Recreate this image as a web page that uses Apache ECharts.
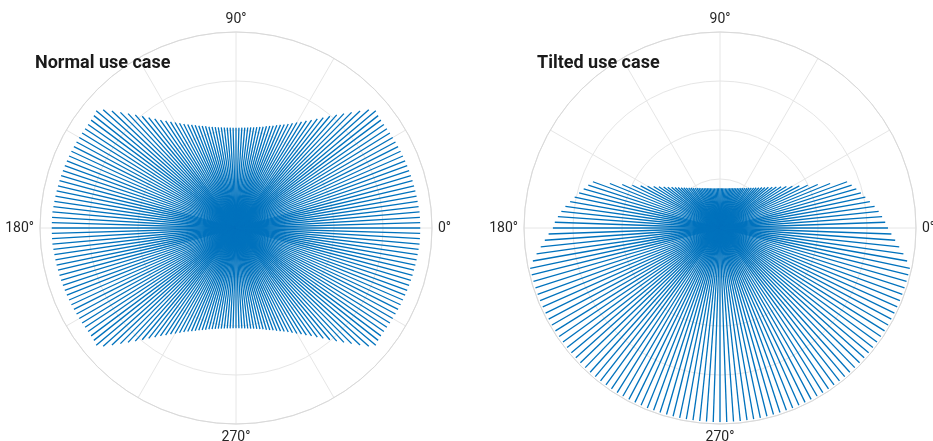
<!DOCTYPE html>
<html>
<head>
<meta charset="utf-8">
<script src="https://cdn.jsdelivr.net/npm/echarts@6/dist/echarts.min.js"></script>
<style>
html,body{margin:0;padding:0;background:#fff;}
#chart{width:933px;height:441px;}
</style>
</head>
<body>
<div id="chart"></div>
<script>
// ---- Data (radius in range units, angle in degrees) ----
const titles = ['Normal use case', 'Tilted use case'];
const angleLabels = [0, 90, 180, 270];

const normalAngles = [
0,1.67,3.33,5,6.67,8.33,10,11.67,13.33,15,16.67,18.33,20,21.67,23.33,25,26.67,28.33,30,31.67,33.33,35,36.67,38.33,
40,41.67,43.33,45,46.67,48.33,50,51.67,53.33,55,56.67,58.33,60,61.67,63.33,65,66.67,68.33,70,71.67,73.33,75,76.67,78.33,
80,81.67,83.33,85,86.67,88.33,90,91.67,93.33,95,96.67,98.33,100,101.67,103.33,105,106.67,108.33,110,111.67,113.33,115,116.67,118.33,
120,121.67,123.33,125,126.67,128.33,130,131.67,133.33,135,136.67,138.33,140,141.67,143.33,145,146.67,148.33,150,151.67,153.33,155,156.67,158.33,
160,161.67,163.33,165,166.67,168.33,170,171.67,173.33,175,176.67,178.33,180,181.67,183.33,185,186.67,188.33,190,191.67,193.33,195,196.67,198.33,
200,201.67,203.33,205,206.67,208.33,210,211.67,213.33,215,216.67,218.33,220,221.67,223.33,225,226.67,228.33,230,231.67,233.33,235,236.67,238.33,
240,241.67,243.33,245,246.67,248.33,250,251.67,253.33,255,256.67,258.33,260,261.67,263.33,265,266.67,268.33,270,271.67,273.33,275,276.67,278.33,
280,281.67,283.33,285,286.67,288.33,290,291.67,293.33,295,296.67,298.33,300,301.67,303.33,305,306.67,308.33,310,311.67,313.33,315,316.67,318.33,
320,321.67,323.33,325,326.67,328.33,330,331.67,333.33,335,336.67,338.33,340,341.67,343.33,345,346.67,348.33,350,351.67,353.33,355,356.67,358.33
];
const normalRadii = [
188,188,188,188,187.6,187.3,187.1,186.9,186.7,186.5,186.3,186.1,185.9,185.7,185.5,185.3,185.1,184.9,184.7,184.5,184.3,184.2,184.3,184.9,
186.2,181.4,174.0,166.8,160.5,154.6,148.9,143.6,138.9,134.4,130.7,127.3,124.3,121.4,118.8,116.5,114.6,112.8,111.1,109.7,108.4,107.0,106.0,105.0,
104.3,103.7,103.2,102.8,102.6,102.4,102.3,102.4,102.6,102.8,103.2,103.7,104.3,105.0,106.0,107.0,108.4,109.7,111.1,112.8,114.6,116.5,118.8,121.4,
124.3,127.3,130.7,134.4,138.9,143.6,148.9,154.6,160.5,166.8,174.0,181.4,186.2,184.9,184.3,184.2,184.3,184.5,184.7,184.9,185.1,185.3,185.5,185.7,
185.9,186.1,186.3,186.5,186.7,186.9,187.1,187.3,187.6,188,188,188,188,188,188,188,187.6,187.3,187.1,186.9,186.7,186.5,186.3,186.1,
185.9,185.7,185.5,185.3,185.1,184.9,184.7,184.5,184.3,184.2,184.3,184.9,186.2,181.4,174.0,166.8,160.5,154.6,148.9,143.6,138.9,134.4,130.7,127.3,
124.3,121.4,118.8,116.5,114.6,112.8,111.1,109.7,108.4,107.0,106.0,105.0,104.3,103.7,103.2,102.8,102.6,102.4,102.3,102.4,102.6,102.8,103.2,103.7,
104.3,105.0,106.0,107.0,108.4,109.7,111.1,112.8,114.6,116.5,118.8,121.4,124.3,127.3,130.7,134.4,138.9,143.6,148.9,154.6,160.5,166.8,174.0,181.4,
186.2,184.9,184.3,184.2,184.3,184.5,184.7,184.9,185.1,185.3,185.5,185.7,185.9,186.1,186.3,186.5,186.7,186.9,187.1,187.3,187.6,188,188,188
];

const tiltedAngles = [
0,2,4,6,8,10,12,14,16,18,20,22,24,26,28,30,32,34,36,38,40,42,44,46,48,50,52,54,56,58,
60,62,64,66,68,70,72,74,76,78,80,82,84,86,88,90,92,94,96,98,100,102,104,106,108,110,112,114,116,118,
120,122,124,126,128,130,132,134,136,138,140,142,144,146,148,150,152,154,156,158,160,162,164,166,168,170,172,174,176,178,
180,182,184,186,188,190,192,194,196,198,200,202,204,206,208,210,212,214,216,218,220,222,224,226,228,230,232,234,236,238,
240,242,244,246,248,250,252,254,256,258,260,262,264,266,268,270,272,274,276,278,280,282,284,286,288,290,292,294,296,298,
300,302,304,306,308,310,312,314,316,318,320,322,324,326,328,330,332,334,336,338,340,342,344,346,348,350,352,354,356,358
];
const tiltedRadii = [
171.4,168.7,165.8,162.8,159.3,155.3,151.6,148.2,144.7,141.3,138,121.2,109.2,99.5,91.7,85.3,79.8,75.2,71.1,67.7,
64.5,61.7,59.4,57.1,55.2,53.5,51.9,50.5,49.2,48.1,47.0,46.1,45.2,44.5,43.8,43.2,42.7,42.2,41.8,41.4,
41.1,40.9,40.7,40.6,40.5,40.5,40.5,40.6,40.7,40.9,41.1,41.4,41.8,42.2,42.7,43.2,43.8,44.5,45.2,46.1,
47.0,48.1,49.2,50.5,51.9,53.5,55.2,57.1,59.4,61.7,64.5,67.7,71.1,75.2,79.8,85.3,91.7,99.5,109.2,121.2,
138,141.3,144.7,148.2,151.6,155.3,159.3,162.8,165.8,168.7,170.5,175.0,179.2,183.9,189.0,193.9,198,198,198,198,
198,198,198,198,198,198,198,198,198,198,198,198,198,198,198,198,198,198,198,198,
198,198,198,198,198,198,198,198,198,198,198,198,198,198,198,198,198,198,198,198,
198,198,198,198,198,198,198,198,198,198,198,198,198,198,198,198,198,198,198,198,
198,198,198,198,198,198,198,198,198,198,198,198,198,198,198,193.9,189.0,183.9,179.2,175.0
];

// ---- Chart ----
const chart = echarts.init(document.getElementById('chart'), null, {renderer: 'canvas'});
const FONT = 'Roboto, "Noto Sans", sans-serif';

function makeAngleAxis(idx) {
  return {
    polarIndex: idx, type: 'value', min: 0, max: 360, interval: 30,
    startAngle: 0, clockwise: false,
    axisLine: {show: true, lineStyle: {color: '#d9d9d9', width: 1}},
    axisTick: {show: false},
    axisLabel: {
      show: true, margin: 6, fontSize: 14, color: '#262626', fontFamily: FONT,
      formatter: function (v) { return angleLabels.indexOf(v) >= 0 ? v + '°' : ''; }
    },
    splitLine: {show: true, lineStyle: {color: '#e6e6e6', width: 1}}
  };
}
function makeRadiusAxis(idx) {
  return {
    polarIndex: idx, type: 'value', min: 0, max: 200, interval: 50,
    axisLine: {show: false}, axisTick: {show: false}, axisLabel: {show: false},
    splitLine: {show: true, lineStyle: {color: '#e6e6e6', width: 1}}
  };
}
function rayRender(params, api) {
  const r = api.value(0), a = api.value(1);
  const p0 = api.coord([0, a]);
  const p1 = api.coord([r, a]);
  return {
    type: 'line',
    shape: {x1: p0[0], y1: p0[1], x2: p1[0], y2: p1[1]},
    style: {stroke: '#0072BD', lineWidth: 1.3}
  };
}
function pairs(radii, angles) { return radii.map(function (r, i) { return [r, angles[i]]; }); }

chart.setOption({
  animation: false,
  backgroundColor: '#ffffff',
  title: [
    {text: titles[0], left: 30, top: 49, textStyle: {fontSize: 18, fontWeight: 'bold', color: '#1a1a1a', fontFamily: FONT}},
    {text: titles[1], left: 532, top: 49, textStyle: {fontSize: 18, fontWeight: 'bold', color: '#1a1a1a', fontFamily: FONT}}
  ],
  polar: [
    {center: [236, 228], radius: 196},
    {center: [720, 228], radius: 196}
  ],
  angleAxis: [makeAngleAxis(0), makeAngleAxis(1)],
  radiusAxis: [makeRadiusAxis(0), makeRadiusAxis(1)],
  series: [
    {type: 'custom', coordinateSystem: 'polar', polarIndex: 0, renderItem: rayRender,
     encode: {radius: 0, angle: 1}, data: pairs(normalRadii, normalAngles), silent: true},
    {type: 'custom', coordinateSystem: 'polar', polarIndex: 1, renderItem: rayRender,
     encode: {radius: 0, angle: 1}, data: pairs(tiltedRadii, tiltedAngles), silent: true}
  ]
});
</script>
</body>
</html>
